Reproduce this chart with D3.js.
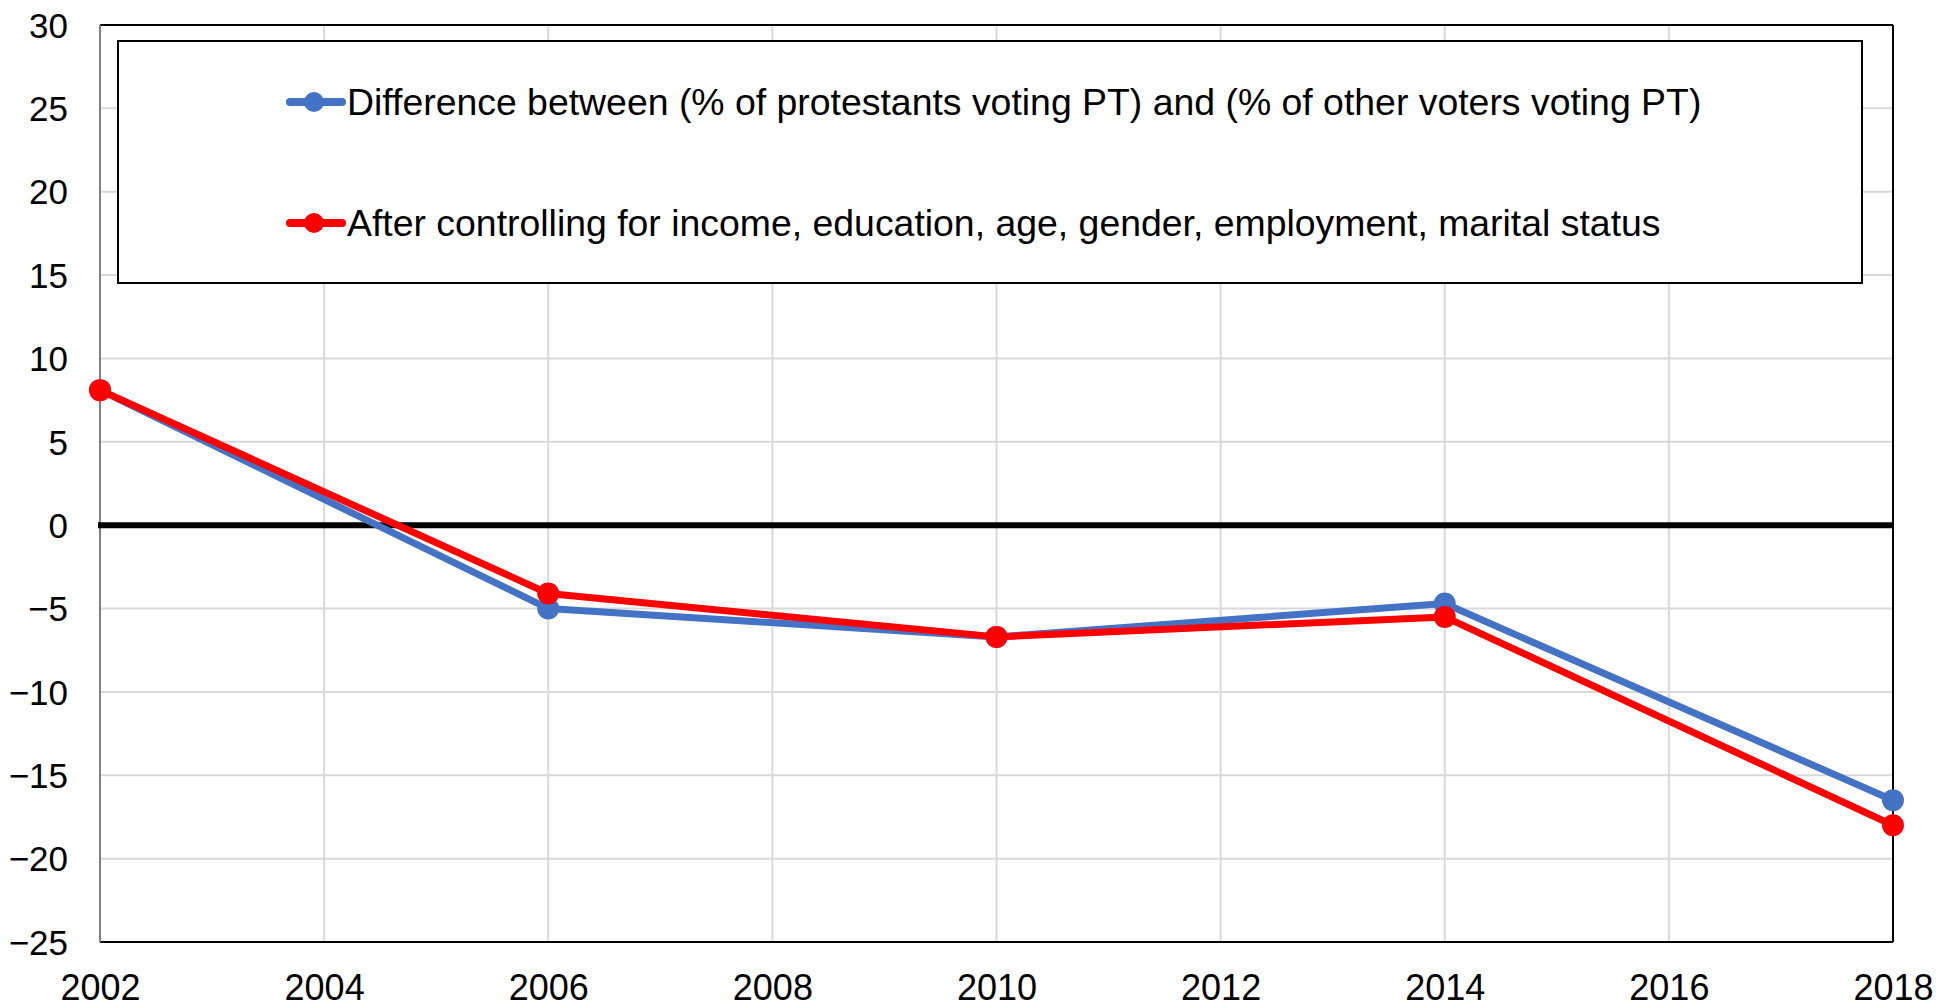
<!DOCTYPE html>
<html><head><meta charset="utf-8">
<script src="https://d3js.org/d3.v7.min.js"></script>
<style>body{margin:0;background:#fff}svg{display:block}</style>
</head><body>
<script>
const years = [2002, 2006, 2010, 2014, 2018];
const diffValues = [8.1, -5.0, -6.7, -4.7, -16.5];
const controlledValues = [8.1, -4.1, -6.7, -5.5, -18.0];
const seriesNames = ["Difference between (% of protestants voting PT) and (% of other voters voting PT)",
  "After controlling for income, education, age, gender, employment, marital status"];
const seriesColors = ["#4472C4", "#FF0000"];
const xTicks = [2002, 2004, 2006, 2008, 2010, 2012, 2014, 2016, 2018];
const yTicks = [-25, -20, -15, -10, -5, 0, 5, 10, 15, 20, 25, 30];

const W = 1956, H = 1007;
const m = {l: 100, r: 1893, t: 25, b: 942};
const svg = d3.select("body").append("svg").attr("width", W).attr("height", H);
const x = d3.scaleLinear().domain([2002, 2018]).range([m.l, m.r]);
const y = d3.scaleLinear().domain([-25, 30]).range([m.b, m.t]);
const font = "'Liberation Sans', Arial, sans-serif";

// gridlines
svg.append("g").selectAll("line").data(yTicks).join("line")
  .attr("x1", m.l).attr("x2", m.r).attr("y1", d => y(d)).attr("y2", d => y(d))
  .attr("stroke", "#d9d9d9").attr("stroke-width", 2);
svg.append("g").selectAll("line").data(xTicks.slice(1, -1)).join("line")
  .attr("y1", m.t).attr("y2", m.b).attr("x1", d => x(d)).attr("x2", d => x(d))
  .attr("stroke", "#d9d9d9").attr("stroke-width", 2);

// border
svg.append("line").attr("x1", m.l).attr("x2", m.r).attr("y1", m.t).attr("y2", m.t).attr("stroke", "#000").attr("stroke-width", 2);
svg.append("line").attr("x1", m.r).attr("x2", m.r).attr("y1", m.t).attr("y2", m.b).attr("stroke", "#000").attr("stroke-width", 2);
svg.append("line").attr("x1", m.l).attr("x2", m.r).attr("y1", m.b).attr("y2", m.b).attr("stroke", "#000").attr("stroke-width", 2);
svg.append("line").attr("x1", m.l).attr("x2", m.l).attr("y1", m.t).attr("y2", m.b).attr("stroke", "#808080").attr("stroke-width", 2);

// zero line
svg.append("line").attr("x1", m.l - 2).attr("x2", m.r).attr("y1", y(0)).attr("y2", y(0)).attr("stroke", "#000").attr("stroke-width", 6);

// axes labels
const yAxis = d3.axisLeft(y).tickValues(yTicks).tickSize(0).tickPadding(0);
const gy = svg.append("g").attr("transform", `translate(${68},0)`).call(yAxis);
gy.select(".domain").remove();
gy.selectAll("text").attr("font-family", font).attr("font-size", 35).attr("fill", "#000").attr("dy", "0.35em");

const xAxis = d3.axisBottom(x).tickValues(xTicks).tickFormat(d3.format("d")).tickSize(0).tickPadding(0);
const gx = svg.append("g").attr("transform", `translate(0,${1000})`).call(xAxis);
gx.select(".domain").remove();
gx.selectAll("text").attr("font-family", font).attr("font-size", 36).attr("fill", "#000").attr("y", 0).attr("dy", "0");

// series
const series = [diffValues, controlledValues];
const line = d3.line().x((d, i) => x(years[i])).y(d => y(d));
series.forEach((vals, k) => {
  const g = svg.append("g");
  g.append("path").attr("d", line(vals)).attr("fill", "none")
    .attr("stroke", seriesColors[k]).attr("stroke-width", 7).attr("stroke-linejoin", "round");
  g.selectAll("circle").data(vals).join("circle")
    .attr("cx", (d, i) => x(years[i])).attr("cy", d => y(d)).attr("r", 11)
    .attr("fill", seriesColors[k]);
});

// legend
const lg = svg.append("g");
lg.append("rect").attr("x", 118).attr("y", 41).attr("width", 1862 - 118).attr("height", 283 - 41)
  .attr("fill", "#fff").attr("stroke", "#000").attr("stroke-width", 2);
const legY = [102, 223];
seriesNames.forEach((name, k) => {
  lg.append("line").attr("x1", 290).attr("x2", 342).attr("y1", legY[k]).attr("y2", legY[k])
    .attr("stroke", seriesColors[k]).attr("stroke-width", 8).attr("stroke-linecap", "round");
  lg.append("circle").attr("cx", 314).attr("cy", legY[k]).attr("r", 10).attr("fill", seriesColors[k]);
  lg.append("text").attr("x", 347).attr("y", legY[k]).attr("dy", "0.35em")
    .attr("font-family", font).attr("font-size", 37.4).attr("fill", "#000").text(name);
});
</script>
</body></html>
